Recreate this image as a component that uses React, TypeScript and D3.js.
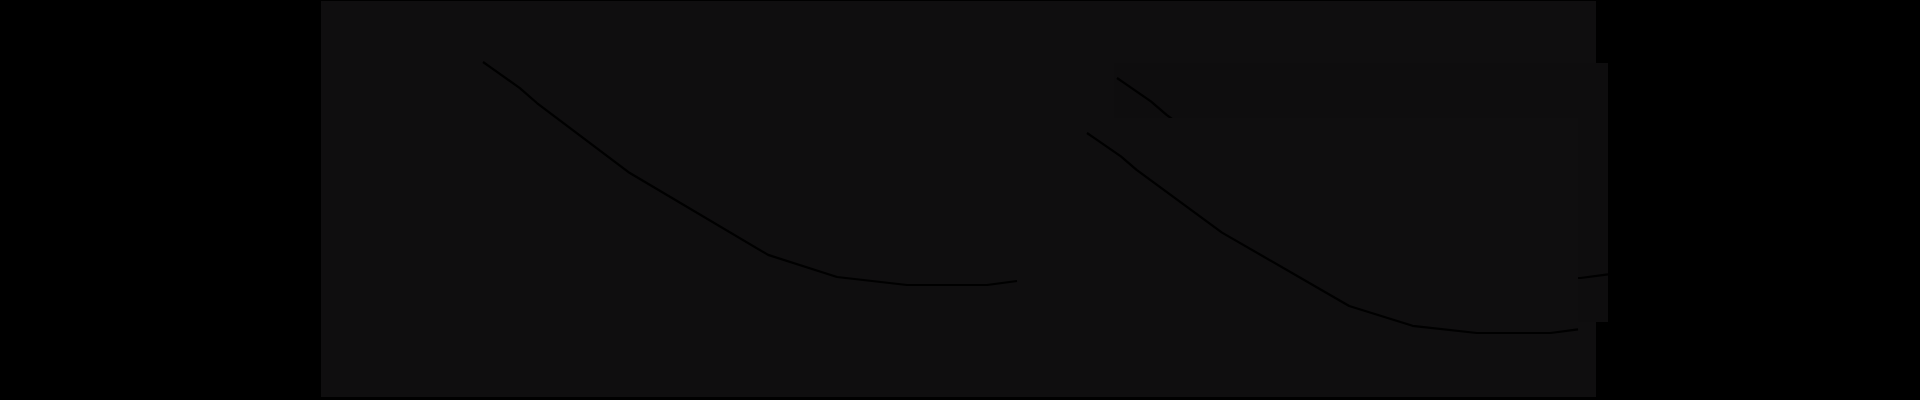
import { useEffect, useRef } from 'react';
import * as d3 from 'd3';

// training steps (percent of run) and normalised loss
const steps = [0, 1.3, 6.9, 10.1, 27.5, 53.4, 66.3, 79.4, 94.4, 100];
const loss = [1.0, 0.978, 0.883, 0.816, 0.502, 0.135, 0.036, 0.0, 0.0, 0.018];

const WIDTH = 1920;
const HEIGHT = 400;

interface Panel {
  box: { x0: number; x1: number; y0: number; y1: number };
  plot: { x0: number; x1: number; y0: number; y1: number };
  fill: string;
}

// main panel, then the offset ghost panel, then the front panel
const PANELS: Panel[] = [
  { box: { x0: 321, x1: 1596, y0: 1, y1: 397 }, plot: { x0: 483, x1: 1017, y0: 62, y1: 285 }, fill: '#0f0e0f' },
  { box: { x0: 1114, x1: 1608, y0: 63, y1: 322 }, plot: { x0: 1117, x1: 1608, y0: 78, y1: 278 }, fill: '#0e0d0e' },
  { box: { x0: 1084, x1: 1578, y0: 118, y1: 376 }, plot: { x0: 1087, x1: 1578, y0: 133, y1: 333 }, fill: '#0f0e0f' },
];

export default function App() {
  const svgRef = useRef<SVGSVGElement>(null);

  useEffect(() => {
    if (!svgRef.current) return;
    const svg = d3.select(svgRef.current);
    svg.selectAll('*').remove();

    svg.append('rect')
      .attr('width', WIDTH)
      .attr('height', HEIGHT)
      .attr('fill', '#000');

    const points = steps.map((s, i) => ({ s, v: loss[i] }));

    PANELS.forEach((p) => {
      svg.append('rect')
        .attr('x', p.box.x0)
        .attr('y', p.box.y0)
        .attr('width', p.box.x1 - p.box.x0)
        .attr('height', p.box.y1 - p.box.y0)
        .attr('fill', p.fill);

      const x = d3.scaleLinear().domain([0, 100]).range([p.plot.x0, p.plot.x1]);
      const y = d3.scaleLinear().domain([0, 1]).range([p.plot.y1, p.plot.y0]);

      const line = d3.line<{ s: number; v: number }>()
        .x((d) => x(d.s))
        .y((d) => y(d.v));

      svg.append('path')
        .datum(points)
        .attr('d', line)
        .attr('fill', 'none')
        .attr('stroke', '#000')
        .attr('stroke-width', 2.2)
        .attr('stroke-linejoin', 'round');
    });
  }, []);

  return (
    <div style={{ position: 'fixed', left: 0, top: 0, width: WIDTH, height: HEIGHT, background: '#000' }}>
      <svg ref={svgRef} width={WIDTH} height={HEIGHT} style={{ display: 'block' }} />
    </div>
  );
}
